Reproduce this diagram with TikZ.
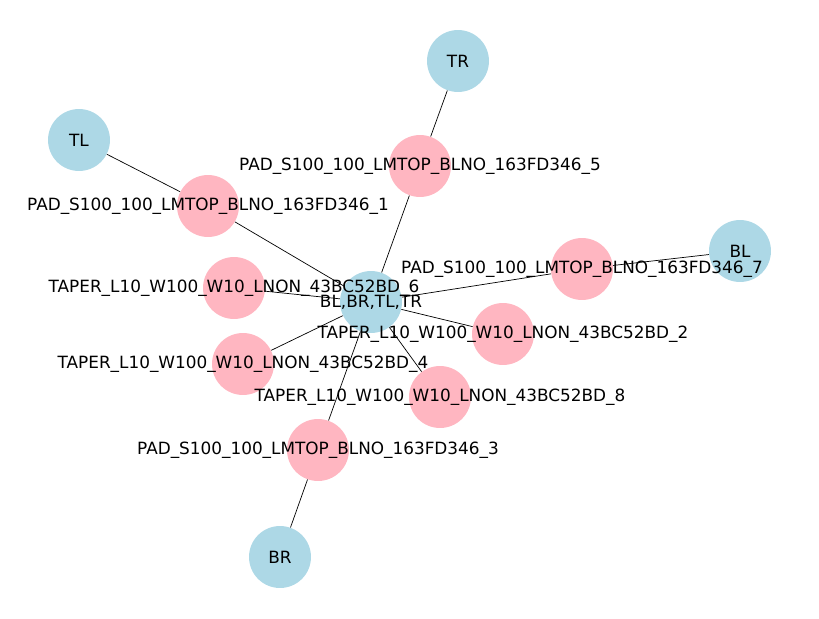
\documentclass[tikz,border=0pt]{standalone}
\usepackage{fontspec}
\setmainfont{DejaVu Sans}
\tikzset{
  term/.style={circle, fill=cyan!30!blue!10!white, fill={rgb,255:red,173;green,216;blue,230}, minimum size=1.24cm, inner sep=0pt},
  part/.style={circle, fill={rgb,255:red,255;green,182;blue,193}, minimum size=1.24cm, inner sep=0pt},
  lbl/.style={font=\fontsize{9.6}{11}\selectfont, inner sep=0pt}
}
\begin{document}
\begin{tikzpicture}[x=0.02cm, y=-0.02cm]
  \useasboundingbox (0,0) rectangle (819,619);

  \node[term] (tr) at (458,61) {};
  \node[term] (tl) at (79,140) {};
  \node[term] (bl) at (740,251) {};
  \node[term] (br) at (280,557) {};
  \node[term] (ctr) at (371,302) {};

  \node[part] (pad5) at (420,166) {};
  \node[part] (pad1) at (208,206) {};
  \node[part] (pad7) at (582,269) {};
  \node[part] (pad3) at (318,450) {};
  \node[part] (tap6) at (234,288) {};
  \node[part] (tap2) at (503,334) {};
  \node[part] (tap4) at (243,364) {};
  \node[part] (tap8) at (440,397) {};

  \draw (tr) -- (pad5);
  \draw (pad5) -- (ctr);
  \draw (tl) -- (pad1);
  \draw (pad1) -- (ctr);
  \draw (bl) -- (pad7);
  \draw (pad7) -- (ctr);
  \draw (br) -- (pad3);
  \draw (pad3) -- (ctr);
  \draw (ctr) -- (tap6);
  \draw (ctr) -- (tap2);
  \draw (ctr) -- (tap4);
  \draw (ctr) -- (tap8);

  \node[lbl] at (tr) {TR};
  \node[lbl] at (tl) {TL};
  \node[lbl] at (bl) {BL};
  \node[lbl] at (br) {BR};
  \node[lbl] at (ctr) {BL,BR,TL,TR};
  \node[lbl] at (pad5) {PAD\_S100\_100\_LMTOP\_BLNO\_163FD346\_5};
  \node[lbl] at (pad1) {PAD\_S100\_100\_LMTOP\_BLNO\_163FD346\_1};
  \node[lbl] at (pad7) {PAD\_S100\_100\_LMTOP\_BLNO\_163FD346\_7};
  \node[lbl] at (pad3) {PAD\_S100\_100\_LMTOP\_BLNO\_163FD346\_3};
  \node[lbl] at (tap6) {TAPER\_L10\_W100\_W10\_LNON\_43BC52BD\_6};
  \node[lbl] at (tap2) {TAPER\_L10\_W100\_W10\_LNON\_43BC52BD\_2};
  \node[lbl] at (tap4) {TAPER\_L10\_W100\_W10\_LNON\_43BC52BD\_4};
  \node[lbl] at (tap8) {TAPER\_L10\_W100\_W10\_LNON\_43BC52BD\_8};
\end{tikzpicture}
\end{document}
